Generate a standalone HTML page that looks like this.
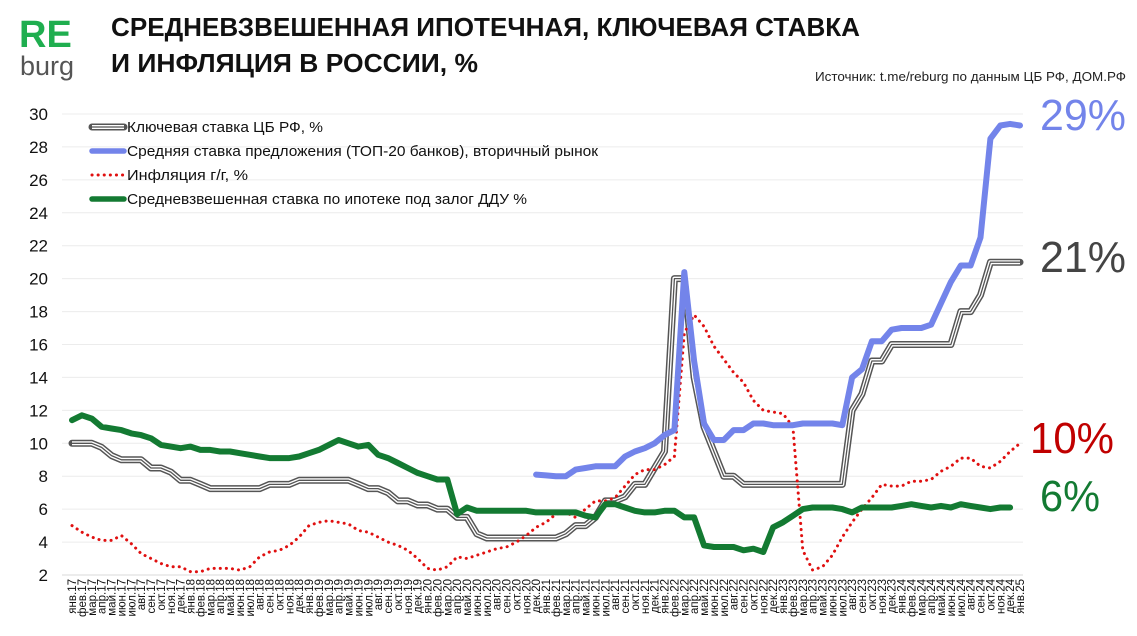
<!DOCTYPE html>
<html><head><meta charset="utf-8">
<style>
body{margin:0;background:#fff;width:1137px;height:631px;overflow:hidden;font-family:"Liberation Sans","DejaVu Sans",sans-serif}
</style></head><body>
<svg id="s" width="1137" height="631" xmlns="http://www.w3.org/2000/svg" font-family="Liberation Sans, DejaVu Sans, sans-serif">
<text x="19" y="47" font-size="38" font-weight="bold" fill="#1fae4f">RE</text>
<text x="20" y="75" font-size="27" fill="#555">burg</text>
<text x="111" y="36" font-size="26" font-weight="bold" fill="#111" textLength="749" lengthAdjust="spacingAndGlyphs">СРЕДНЕВЗВЕШЕННАЯ ИПОТЕЧНАЯ, КЛЮЧЕВАЯ СТАВКА</text>
<text x="111" y="72" font-size="26" font-weight="bold" fill="#111" textLength="367" lengthAdjust="spacingAndGlyphs">И ИНФЛЯЦИЯ В РОССИИ, %</text>
<text x="1126" y="81" font-size="13" fill="#222" text-anchor="end" textLength="311" lengthAdjust="spacingAndGlyphs">Источник: t.me/reburg по данным ЦБ РФ, ДОМ.РФ</text>
<g id="grid"></g>
<g id="series"></g>
<g font-size="15" fill="#111">
<line x1="92" y1="127" x2="124" y2="127" stroke="#555" stroke-width="7" stroke-linecap="round"/>
<line x1="92" y1="127" x2="124" y2="127" stroke="#fff" stroke-width="4"/>
<line x1="92" y1="127" x2="124" y2="127" stroke="#555" stroke-width="1.3"/>
<text x="127" y="132" textLength="196" lengthAdjust="spacingAndGlyphs">Ключевая ставка ЦБ РФ, %</text>
<line x1="92" y1="151" x2="124" y2="151" stroke="#7384ea" stroke-width="5.5" stroke-linecap="round"/>
<text x="127" y="156" textLength="471" lengthAdjust="spacingAndGlyphs">Средняя ставка предложения (ТОП-20 банков), вторичный рынок</text>
<line x1="92" y1="175" x2="124" y2="175" stroke="#e01010" stroke-width="3" stroke-dasharray="0.1 6" stroke-linecap="round"/>
<text x="127" y="180" textLength="121" lengthAdjust="spacingAndGlyphs">Инфляция г/г,  %</text>
<line x1="92" y1="199" x2="124" y2="199" stroke="#137a32" stroke-width="5.5" stroke-linecap="round"/>
<text x="127" y="204" textLength="400" lengthAdjust="spacingAndGlyphs">Средневзвешенная ставка по ипотеке под залог ДДУ %</text>
</g>
<g font-size="44">
<text x="1040" y="130" fill="#7384ea" textLength="86" lengthAdjust="spacingAndGlyphs">29%</text>
<text x="1040" y="272" fill="#444" textLength="86" lengthAdjust="spacingAndGlyphs">21%</text>
<text x="1030" y="453" fill="#c00000" textLength="84" lengthAdjust="spacingAndGlyphs">10%</text>
<text x="1040" y="511" fill="#137a32" textLength="60" lengthAdjust="spacingAndGlyphs">6%</text>
</g>
</svg>
<script>
const NS="http://www.w3.org/2000/svg";
const X=i=>72+i*9.875, Y=v=>575-(v-2)*16.464;
function el(p,t,a,txt){const e=document.createElementNS(NS,t);for(const k in a)e.setAttribute(k,a[k]);if(txt!==undefined)e.textContent=txt;p.appendChild(e);return e;}
const g=document.getElementById('grid'), s=document.getElementById('series');
for(let v=2;v<=30;v+=2){el(g,'line',{x1:62,x2:1023,y1:Y(v),y2:Y(v),stroke:v==2?'#d8d8d8':'#ececec','stroke-width':1});
 el(g,'text',{x:48,y:Y(v)+6,'font-size':17,'text-anchor':'end',fill:'#111'},String(v));}
const mn=['янв','фев','мар','апр','май','июн','июл','авг','сен','окт','ноя','дек'];
for(let i=0;i<97;i++){const x=X(i)+4;const lab=mn[i%12]+'.'+(17+Math.floor(i/12));
 el(g,'text',{x:0,y:0,'font-size':11.5,fill:'#111','text-anchor':'end',transform:`translate(${x},579) rotate(-90)`},lab);}
function pts(arr,off){return arr.map((v,i)=>X(i+off).toFixed(1)+','+Y(v).toFixed(1)).join(' ');}
const key=[10,10,10,9.75,9.25,9,9,9,8.5,8.5,8.25,7.75,
7.75,7.5,7.25,7.25,7.25,7.25,7.25,7.25,7.5,7.5,7.5,7.75,
7.75,7.75,7.75,7.75,7.75,7.5,7.25,7.25,7,6.5,6.5,6.25,
6.25,6,6,5.5,5.5,4.5,4.25,4.25,4.25,4.25,4.25,4.25,
4.25,4.25,4.5,5,5,5.5,6.5,6.5,6.75,7.5,7.5,8.5,
9.5,20,20,14,11,9.5,8,8,7.5,7.5,7.5,7.5,
7.5,7.5,7.5,7.5,7.5,7.5,7.5,12,13,15,15,16,
16,16,16,16,16,16,18,18,19,21,21,21,21];
const blue=[8.1,8.05,8.0,8.0,8.4,8.5,8.6,8.6,8.6,9.2,9.5,9.7,10.0,
10.5,10.8,20.4,15,11.2,10.2,10.2,10.8,10.8,11.2,11.2,11.1,
11.1,11.1,11.2,11.2,11.2,11.2,11.1,14.0,14.5,16.2,16.2,16.9,
17,17,17,17.2,18.5,19.8,20.8,20.8,22.5,28.5,29.3,29.4,29.3];
const infl=[5.0,4.6,4.3,4.1,4.1,4.4,3.9,3.3,3.0,2.7,2.5,2.5,
2.2,2.2,2.4,2.4,2.4,2.3,2.5,3.1,3.4,3.5,3.8,4.3,
5.0,5.2,5.3,5.2,5.1,4.7,4.6,4.3,4.0,3.8,3.5,3.0,
2.4,2.3,2.5,3.1,3.0,3.2,3.4,3.6,3.7,4.0,4.4,4.9,
5.2,5.7,5.8,5.5,6.0,6.5,6.5,6.7,7.4,8.1,8.4,8.4,
8.7,9.2,16.7,17.8,17.1,15.9,15.1,14.3,13.7,12.6,12.0,11.9,
11.8,11.0,3.5,2.3,2.5,3.2,4.3,5.2,6.0,6.7,7.5,7.4,
7.4,7.7,7.7,7.8,8.3,8.6,9.1,9.1,8.6,8.5,8.9,9.5,10.0];
const green=[11.4,11.7,11.5,11.0,10.9,10.8,10.6,10.5,10.3,9.9,9.8,9.7,
9.8,9.6,9.6,9.5,9.5,9.4,9.3,9.2,9.1,9.1,9.1,9.2,
9.4,9.6,9.9,10.2,10.0,9.8,9.9,9.3,9.1,8.8,8.5,8.2,
8.0,7.8,7.8,5.7,6.1,5.9,5.9,5.9,5.9,5.9,5.9,5.8,
5.8,5.8,5.8,5.8,5.6,5.5,6.3,6.3,6.1,5.9,5.8,5.8,
5.9,5.9,5.5,5.5,3.8,3.7,3.7,3.7,3.5,3.6,3.4,4.9,
5.2,5.6,6.0,6.1,6.1,6.1,6.0,5.8,6.1,6.1,6.1,6.1,
6.2,6.3,6.2,6.1,6.2,6.1,6.3,6.2,6.1,6.0,6.1,6.1];
const kp=pts(key,0);
el(s,'polyline',{points:kp,fill:'none',stroke:'#555','stroke-width':7,'stroke-linejoin':'round','stroke-linecap':'round'});
el(s,'polyline',{points:kp,fill:'none',stroke:'#fff','stroke-width':4,'stroke-linejoin':'round'});
el(s,'polyline',{points:kp,fill:'none',stroke:'#555','stroke-width':1.3,'stroke-linejoin':'round'});
el(s,'polyline',{points:pts(infl,0),fill:'none',stroke:'#e01010','stroke-width':3,'stroke-dasharray':'0.1 6','stroke-linecap':'round'});
el(s,'polyline',{points:pts(blue,47),fill:'none',stroke:'#7384ea','stroke-width':6,'stroke-linejoin':'round','stroke-linecap':'round'});
el(s,'polyline',{points:pts(green,0),fill:'none',stroke:'#137a32','stroke-width':6,'stroke-linejoin':'round','stroke-linecap':'round'});
</script>
</body></html>
